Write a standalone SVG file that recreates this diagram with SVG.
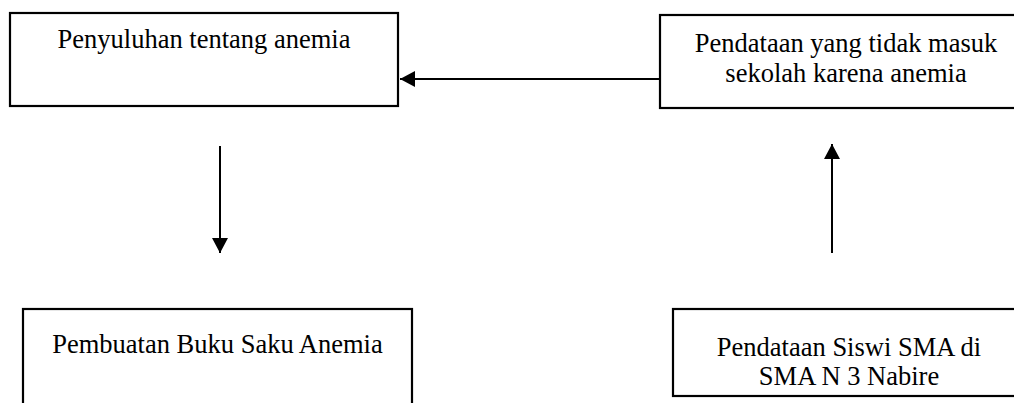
<svg xmlns="http://www.w3.org/2000/svg" width="1014" height="403" viewBox="0 0 1014 403">
<style>
.box{fill:#fff;stroke:#000;stroke-width:2.2}
.lbl{font-family:"Liberation Serif","Times New Roman",serif;font-size:26.5px;fill:#000;text-anchor:middle}
.conn{stroke:#000;stroke-width:2;fill:none;marker-end:url(#ah)}
</style>
<defs>
<marker id="ah" markerUnits="userSpaceOnUse" markerWidth="16" markerHeight="16" refX="15" refY="8" orient="auto">
<path d="M0,0 L15,8 L0,16 z" fill="#000"/>
</marker>
</defs>
<rect width="1014" height="403" fill="#fff"/>
<g id="n1">
<rect class="box" x="10" y="13" width="388" height="93"/>
<text class="lbl" x="204" y="48">Penyuluhan tentang anemia</text>
</g>
<g id="n2">
<rect class="box" x="660" y="15" width="380" height="93"/>
<text class="lbl" x="846" y="52">Pendataan yang tidak masuk</text>
<text class="lbl" x="846" y="82">sekolah karena anemia</text>
</g>
<g id="n3">
<rect class="box" x="23" y="309" width="389" height="120"/>
<text class="lbl" x="217.5" y="353">Pembuatan Buku Saku Anemia</text>
</g>
<g id="n4">
<rect class="box" x="673" y="309" width="370" height="87"/>
<text class="lbl" x="849" y="356">Pendataan Siswi SMA di</text>
<text class="lbl" x="849" y="385">SMA N 3 Nabire</text>
</g>
<g id="connectors">
<line class="conn" x1="660" y1="79" x2="400" y2="79"/>
<line class="conn" x1="220" y1="146" x2="220" y2="253"/>
<line class="conn" x1="832" y1="253" x2="832" y2="144"/>
</g>
</svg>
